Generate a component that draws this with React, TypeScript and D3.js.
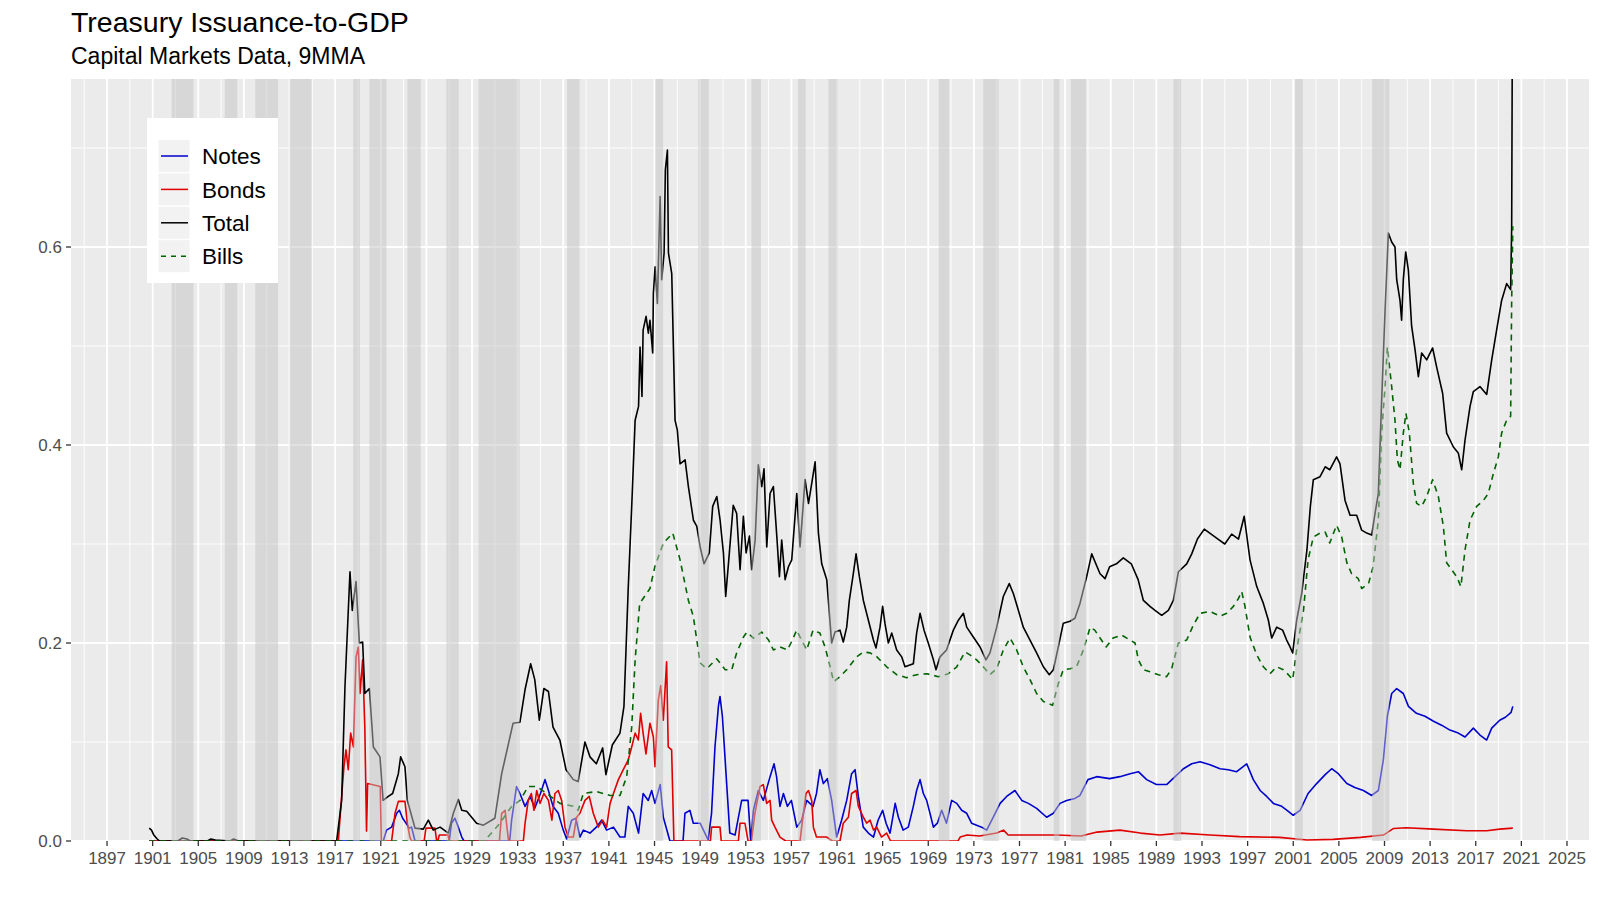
import React from 'react';
import * as d3 from 'd3';

type Pt = [number, number];

// Recession periods (NBER), as decimal years
const recessions: Pt[] = [
  [1902.67, 1904.58], [1907.33, 1908.42], [1910.0, 1912.0], [1913.0, 1914.92],
  [1918.58, 1919.17], [1920.0, 1921.5], [1923.33, 1924.5], [1926.75, 1927.83],
  [1929.58, 1933.17], [1937.33, 1938.42], [1945.08, 1945.75], [1948.83, 1949.75],
  [1953.5, 1954.33], [1957.58, 1958.25], [1960.25, 1961.08], [1969.92, 1970.83],
  [1973.83, 1975.17], [1980.0, 1980.5], [1981.5, 1982.83], [1990.5, 1991.17],
  [2001.17, 2001.83], [2007.92, 2009.42],
];

const xTicks = d3.range(1897, 2026, 4);
const xMinor = d3.range(1895, 2026, 4);
const yTicks = [0, 0.2, 0.4, 0.6];
const yMinor = [0.1, 0.3, 0.5, 0.7];

const totalSeries: Pt[] = [
  [1900.7, 0.013], [1900.9, 0.011], [1901.1, 0.006], [1901.4, 0.002], [1901.6, 0], [1903.2, 0], [1903.6, 0.003],
  [1904.0, 0.002], [1904.3, 0], [1905.8, 0], [1906.1, 0.002], [1906.5, 0.001], [1907.8, 0], [1908.1, 0.002],
  [1908.5, 0], [1917.13, 0], [1917.57, 0.041], [1917.86, 0.156], [1918.3, 0.272], [1918.5, 0.233], [1918.83, 0.262],
  [1919.12, 0.2], [1919.41, 0.201], [1919.6, 0.149], [1920.0, 0.154], [1920.35, 0.095], [1920.93, 0.085],
  [1921.2, 0.041], [1921.66, 0.045], [1922.04, 0.048], [1922.54, 0.068], [1922.74, 0.085], [1923.12, 0.075],
  [1923.33, 0.041], [1924.0, 0.013], [1924.73, 0.012], [1925.17, 0.021], [1925.6, 0.011], [1926.2, 0.014],
  [1926.92, 0.008], [1927.36, 0.028], [1927.8, 0.042], [1928.1, 0.031], [1928.53, 0.03], [1929.4, 0.018],
  [1930.0, 0.016], [1931.0, 0.023], [1931.6, 0.068], [1932.6, 0.119], [1933.2, 0.12], [1933.65, 0.153],
  [1934.14, 0.179], [1934.5, 0.163], [1934.9, 0.122], [1935.3, 0.154], [1935.7, 0.151], [1936.1, 0.115],
  [1936.7, 0.102], [1937.24, 0.072], [1937.88, 0.062], [1938.3, 0.06], [1938.9, 0.1], [1939.34, 0.085],
  [1939.9, 0.078], [1940.45, 0.094], [1940.74, 0.067], [1941.3, 0.097], [1941.97, 0.109], [1942.32, 0.136],
  [1942.7, 0.257], [1943.0, 0.338], [1943.3, 0.425], [1943.6, 0.439], [1943.73, 0.499], [1943.9, 0.449],
  [1944.0, 0.516], [1944.26, 0.53], [1944.46, 0.513], [1944.6, 0.526], [1944.84, 0.493], [1944.9, 0.553],
  [1945.05, 0.58], [1945.25, 0.543], [1945.49, 0.651], [1945.63, 0.567], [1945.84, 0.594], [1945.95, 0.678],
  [1946.13, 0.698], [1946.22, 0.594], [1946.51, 0.573], [1946.8, 0.425], [1947.0, 0.415], [1947.24, 0.381],
  [1947.68, 0.385], [1947.97, 0.358], [1948.41, 0.324], [1948.7, 0.318], [1949.0, 0.297], [1949.34, 0.28],
  [1949.8, 0.291], [1950.1, 0.338], [1950.46, 0.348], [1950.75, 0.324], [1951.04, 0.291], [1951.24, 0.247],
  [1951.56, 0.291], [1951.9, 0.339], [1952.2, 0.331], [1952.5, 0.274], [1952.79, 0.328], [1953.03, 0.291],
  [1953.32, 0.308], [1953.52, 0.274], [1953.82, 0.304], [1954.1, 0.38], [1954.4, 0.358], [1954.6, 0.376],
  [1954.84, 0.297], [1955.13, 0.351], [1955.42, 0.358], [1955.72, 0.308], [1955.95, 0.267], [1956.15, 0.304],
  [1956.45, 0.264], [1956.74, 0.277], [1957.03, 0.284], [1957.47, 0.351], [1957.76, 0.297], [1958.2, 0.365],
  [1958.5, 0.341], [1958.78, 0.361], [1959.08, 0.383], [1959.37, 0.311], [1959.66, 0.28], [1960.1, 0.264],
  [1960.53, 0.2], [1960.82, 0.211], [1961.26, 0.213], [1961.55, 0.201], [1961.85, 0.216], [1962.08, 0.243],
  [1962.43, 0.27], [1962.67, 0.29], [1962.96, 0.267], [1963.31, 0.243], [1963.75, 0.223], [1964.19, 0.203],
  [1964.42, 0.195], [1964.77, 0.216], [1965.0, 0.237], [1965.2, 0.22], [1965.5, 0.2], [1965.8, 0.21],
  [1966.23, 0.193], [1966.67, 0.186], [1966.96, 0.176], [1967.69, 0.179], [1967.98, 0.21], [1968.28, 0.23],
  [1968.63, 0.213], [1969.0, 0.2], [1969.45, 0.183], [1969.68, 0.173], [1970.03, 0.186], [1970.6, 0.193],
  [1971.2, 0.213], [1971.64, 0.223], [1972.08, 0.23], [1972.37, 0.216], [1972.95, 0.206], [1973.54, 0.196],
  [1974.06, 0.183], [1974.41, 0.19], [1975.0, 0.216], [1975.58, 0.247], [1976.1, 0.26], [1976.46, 0.25],
  [1976.9, 0.233], [1977.33, 0.216], [1977.92, 0.203], [1978.5, 0.19], [1979.09, 0.176], [1979.61, 0.168],
  [1979.97, 0.173], [1980.4, 0.196], [1980.84, 0.22], [1981.43, 0.222], [1981.86, 0.225], [1982.3, 0.24],
  [1982.89, 0.267], [1983.33, 0.29], [1984.06, 0.27], [1984.5, 0.265], [1984.9, 0.277], [1985.5, 0.28],
  [1986.1, 0.286], [1986.8, 0.28], [1987.4, 0.264], [1987.86, 0.243], [1988.44, 0.237], [1988.88, 0.233],
  [1989.47, 0.228], [1990.05, 0.233], [1990.49, 0.243], [1990.93, 0.272], [1991.66, 0.28], [1992.1, 0.29],
  [1992.6, 0.305], [1993.2, 0.315], [1993.8, 0.31], [1994.4, 0.305], [1995.0, 0.3], [1995.6, 0.31],
  [1996.2, 0.305], [1996.7, 0.328], [1997.21, 0.284], [1997.8, 0.257], [1998.38, 0.24], [1998.82, 0.223],
  [1999.11, 0.205], [1999.55, 0.216], [2000.07, 0.213], [2000.42, 0.203], [2000.72, 0.196], [2000.95, 0.19],
  [2001.3, 0.223], [2001.74, 0.25], [2002.2, 0.294], [2002.5, 0.338], [2002.76, 0.365], [2003.35, 0.368],
  [2003.8, 0.378], [2004.2, 0.375], [2004.8, 0.388], [2005.1, 0.381], [2005.54, 0.344], [2005.98, 0.329],
  [2006.56, 0.329], [2007.0, 0.314], [2007.44, 0.311], [2007.88, 0.309], [2008.17, 0.331], [2008.46, 0.351],
  [2008.75, 0.445], [2009.05, 0.536], [2009.34, 0.614], [2009.63, 0.605], [2009.92, 0.6], [2010.07, 0.567],
  [2010.36, 0.546], [2010.5, 0.526], [2010.65, 0.567], [2010.86, 0.595], [2011.09, 0.577], [2011.38, 0.52],
  [2011.68, 0.496], [2011.97, 0.469], [2012.26, 0.493], [2012.7, 0.486], [2013.22, 0.498], [2013.57, 0.479],
  [2014.1, 0.452], [2014.45, 0.412], [2015.04, 0.398], [2015.47, 0.392], [2015.77, 0.375], [2016.06, 0.405],
  [2016.5, 0.439], [2016.79, 0.454], [2017.37, 0.459], [2017.96, 0.451], [2018.4, 0.486], [2018.83, 0.516],
  [2019.27, 0.546], [2019.71, 0.563], [2020.06, 0.557], [2020.15, 0.62], [2020.25, 0.95],
];

const billsSeries: Pt[] = [
  [1900.7, 0], [1930.2, 0], [1930.4, 0.004], [1931.45, 0.018], [1932.47, 0.035], [1933.2, 0.041], [1933.93, 0.055],
  [1934.67, 0.055], [1935.54, 0.048], [1936.7, 0.038], [1937.88, 0.035], [1938.3, 0.031], [1938.76, 0.048],
  [1939.9, 0.05], [1941.1, 0.046], [1941.97, 0.046], [1942.56, 0.065], [1943.0, 0.115], [1943.3, 0.183],
  [1943.7, 0.24], [1944.6, 0.255], [1945.05, 0.278], [1945.78, 0.301], [1946.6, 0.311], [1947.24, 0.284],
  [1947.97, 0.243], [1948.4, 0.227], [1949.0, 0.18], [1949.57, 0.174], [1950.45, 0.184], [1951.2, 0.173],
  [1951.77, 0.173], [1952.2, 0.19], [1952.8, 0.206], [1953.1, 0.211], [1953.67, 0.205], [1954.4, 0.211],
  [1955.0, 0.203], [1955.42, 0.193], [1956.0, 0.196], [1956.65, 0.193], [1957.0, 0.201], [1957.47, 0.213],
  [1957.76, 0.206], [1958.34, 0.193], [1958.9, 0.213], [1959.5, 0.21], [1959.95, 0.196], [1960.4, 0.176],
  [1960.7, 0.161], [1961.26, 0.166], [1961.85, 0.173], [1962.72, 0.186], [1963.31, 0.191], [1963.9, 0.19],
  [1964.5, 0.186], [1965.35, 0.176], [1966.23, 0.168], [1967.1, 0.165], [1967.98, 0.168], [1968.86, 0.169],
  [1969.88, 0.166], [1970.76, 0.169], [1971.5, 0.176], [1972.22, 0.191], [1972.66, 0.188], [1973.24, 0.183],
  [1973.83, 0.176], [1974.41, 0.168], [1975.0, 0.174], [1975.58, 0.193], [1976.17, 0.205], [1976.75, 0.193],
  [1977.33, 0.176], [1977.92, 0.163], [1978.5, 0.149], [1979.09, 0.141], [1979.9, 0.137], [1980.4, 0.159],
  [1980.84, 0.173], [1981.43, 0.174], [1982.0, 0.176], [1982.6, 0.193], [1983.2, 0.216], [1983.6, 0.213],
  [1984.06, 0.205], [1984.6, 0.196], [1985.2, 0.205], [1985.96, 0.208], [1986.69, 0.203], [1987.13, 0.2],
  [1987.42, 0.183], [1987.86, 0.173], [1988.44, 0.171], [1989.17, 0.168], [1989.9, 0.166], [1990.34, 0.174],
  [1990.93, 0.2], [1991.66, 0.203], [1992.24, 0.218], [1992.83, 0.23], [1993.7, 0.232], [1994.58, 0.227],
  [1995.17, 0.23], [1995.75, 0.237], [1996.2, 0.245], [1996.48, 0.252], [1996.77, 0.237], [1997.21, 0.206],
  [1997.8, 0.188], [1998.38, 0.176], [1998.96, 0.169], [1999.55, 0.176], [2000.13, 0.173], [2000.57, 0.168],
  [2000.95, 0.163], [2001.3, 0.193], [2001.9, 0.233], [2002.3, 0.284], [2002.76, 0.307], [2003.35, 0.311],
  [2003.8, 0.312], [2004.2, 0.301], [2004.8, 0.319], [2005.25, 0.307], [2005.7, 0.281], [2006.12, 0.27],
  [2006.7, 0.265], [2007.0, 0.255], [2007.6, 0.26], [2008.0, 0.277], [2008.46, 0.324], [2008.75, 0.412],
  [2009.05, 0.459], [2009.25, 0.499], [2009.63, 0.459], [2009.92, 0.425], [2010.13, 0.385], [2010.36, 0.375],
  [2010.65, 0.412], [2010.88, 0.432], [2011.18, 0.412], [2011.53, 0.361], [2011.82, 0.341], [2012.26, 0.338],
  [2012.7, 0.348], [2013.22, 0.365], [2013.72, 0.348], [2014.16, 0.318], [2014.45, 0.281], [2014.89, 0.274],
  [2015.33, 0.267], [2015.7, 0.257], [2016.06, 0.294], [2016.5, 0.324], [2017.08, 0.338], [2017.67, 0.344],
  [2018.1, 0.351], [2018.54, 0.371], [2018.98, 0.388], [2019.27, 0.412], [2019.71, 0.425], [2020.06, 0.429],
  [2020.15, 0.546], [2020.25, 0.621],
];

const notesSeries: Pt[] = [
  [1900.7, 0], [1921.22, 0], [1921.5, 0.011], [1921.95, 0.014], [1922.4, 0.028], [1922.63, 0.031], [1922.92, 0.023],
  [1923.21, 0.018], [1923.5, 0.013], [1923.7, 0.014], [1924.0, 0], [1927.0, 0], [1927.2, 0.018], [1927.5, 0.023],
  [1927.8, 0.014], [1928.1, 0.004], [1928.3, 0], [1932.3, 0], [1932.47, 0.021], [1932.9, 0.055], [1933.2, 0.048],
  [1933.65, 0.035], [1934.1, 0.045], [1934.5, 0.033], [1935.0, 0.048], [1935.4, 0.062], [1935.7, 0.051],
  [1936.1, 0.035], [1936.56, 0.028], [1937.0, 0.011], [1937.3, 0.002], [1937.73, 0.021], [1938.1, 0.023],
  [1938.46, 0.004], [1938.76, 0.011], [1939.34, 0.008], [1939.9, 0.014], [1940.36, 0.021], [1940.8, 0.011],
  [1941.4, 0.014], [1941.97, 0.004], [1942.4, 0.004], [1942.7, 0.035], [1943.14, 0.028], [1943.6, 0.008],
  [1944.0, 0.048], [1944.45, 0.041], [1944.75, 0.051], [1945.04, 0.038], [1945.5, 0.057], [1945.77, 0.024],
  [1946.35, 0], [1947.5, 0], [1947.67, 0.028], [1948.1, 0.031], [1948.4, 0.018], [1949.0, 0.018], [1949.7, 0.001],
  [1950.0, 0.028], [1950.3, 0.095], [1950.6, 0.136], [1950.74, 0.146], [1950.95, 0.126], [1951.27, 0.068],
  [1951.6, 0.008], [1952.06, 0.006], [1952.64, 0.041], [1953.2, 0.041], [1953.43, 0.001], [1953.67, 0.031],
  [1954.1, 0.051], [1954.54, 0.041], [1955.13, 0.065], [1955.48, 0.078], [1955.7, 0.065], [1956.0, 0.035],
  [1956.3, 0.048], [1956.65, 0.035], [1957.0, 0.041], [1957.47, 0.014], [1957.9, 0.021], [1958.34, 0.041],
  [1958.9, 0.035], [1959.2, 0.048], [1959.5, 0.072], [1959.8, 0.058], [1960.15, 0.063], [1960.53, 0.041],
  [1960.97, 0.004], [1961.4, 0.021], [1961.85, 0.041], [1962.28, 0.068], [1962.58, 0.072], [1962.87, 0.045],
  [1963.3, 0.014], [1963.75, 0.008], [1964.2, 0.004], [1964.6, 0.021], [1965.0, 0.031], [1965.3, 0.018],
  [1965.65, 0.008], [1966.1, 0.038], [1966.38, 0.024], [1966.8, 0.011], [1967.25, 0.014], [1967.69, 0.035],
  [1967.98, 0.051], [1968.28, 0.062], [1968.57, 0.048], [1968.86, 0.041], [1969.15, 0.028], [1969.45, 0.014],
  [1969.8, 0.018], [1970.18, 0.031], [1970.6, 0.018], [1971.05, 0.041], [1971.5, 0.038], [1971.93, 0.031],
  [1972.37, 0.028], [1972.8, 0.018], [1973.24, 0.016], [1973.68, 0.014], [1974.12, 0.011], [1974.7, 0.024],
  [1975.3, 0.038], [1975.87, 0.045], [1976.6, 0.051], [1977.2, 0.041], [1977.78, 0.038], [1978.5, 0.033],
  [1979.38, 0.024], [1979.97, 0.028], [1980.55, 0.038], [1981.13, 0.041], [1981.86, 0.043], [1982.3, 0.046],
  [1983.0, 0.062], [1983.77, 0.065], [1984.9, 0.063], [1985.8, 0.065], [1986.7, 0.068], [1987.42, 0.07],
  [1988.15, 0.062], [1989.0, 0.057], [1989.9, 0.057], [1990.64, 0.065], [1991.37, 0.073], [1992.1, 0.078],
  [1992.83, 0.08], [1993.7, 0.077], [1994.58, 0.073], [1995.3, 0.072], [1996.04, 0.07], [1996.92, 0.078],
  [1997.5, 0.062], [1998.1, 0.051], [1998.67, 0.045], [1999.26, 0.038], [1999.99, 0.035], [2000.57, 0.03],
  [2001.0, 0.026], [2001.6, 0.031], [2002.3, 0.048], [2003.05, 0.058], [2003.8, 0.067], [2004.37, 0.073],
  [2004.95, 0.068], [2005.7, 0.058], [2006.4, 0.054], [2007.15, 0.051], [2007.88, 0.046], [2008.46, 0.051],
  [2008.9, 0.082], [2009.25, 0.126], [2009.63, 0.149], [2010.07, 0.154], [2010.65, 0.149], [2011.1, 0.136],
  [2011.8, 0.129], [2012.55, 0.126], [2013.3, 0.121], [2014.0, 0.117], [2014.74, 0.112], [2015.47, 0.109],
  [2016.06, 0.105], [2016.79, 0.114], [2017.37, 0.107], [2017.96, 0.102], [2018.4, 0.114], [2019.1, 0.122],
  [2019.6, 0.125], [2020.1, 0.13], [2020.25, 0.136],
];

const bondsSeries: Pt[] = [
  [1900.7, 0], [1917.28, 0], [1917.5, 0.035], [1917.77, 0.075], [1917.95, 0.092], [1918.15, 0.072], [1918.36, 0.109],
  [1918.6, 0.095], [1918.83, 0.186], [1919.03, 0.196], [1919.18, 0.149], [1919.41, 0.183], [1919.6, 0.115],
  [1919.75, 0.01], [1919.85, 0.058], [1920.95, 0.055], [1921.05, 0], [1921.95, 0], [1922.25, 0.028],
  [1922.54, 0.04], [1923.12, 0.04], [1923.33, 0.018], [1923.55, 0.004], [1923.7, 0], [1924.8, 0],
  [1924.96, 0.013], [1925.75, 0.013], [1925.9, 0], [1926.0, 0], [1926.13, 0.006], [1926.9, 0.006], [1927.0, 0],
  [1931.4, 0], [1931.6, 0.028], [1931.9, 0.031], [1932.2, 0], [1933.5, 0], [1933.65, 0.018], [1933.93, 0.041],
  [1934.2, 0.048], [1934.43, 0.031], [1934.67, 0.051], [1934.96, 0.038], [1935.3, 0.048], [1935.7, 0.041],
  [1936.0, 0.021], [1936.27, 0.048], [1936.56, 0.051], [1936.86, 0.041], [1937.15, 0.014], [1937.44, 0.004],
  [1937.88, 0.004], [1938.17, 0.024], [1938.46, 0.028], [1938.9, 0.041], [1939.28, 0.045], [1939.63, 0.028],
  [1940.07, 0.014], [1940.45, 0.021], [1940.8, 0.014], [1941.1, 0.038], [1941.4, 0.048], [1941.83, 0.062],
  [1942.26, 0.072], [1942.7, 0.082], [1943.0, 0.095], [1943.3, 0.109], [1943.58, 0.102], [1943.78, 0.129],
  [1944.0, 0.109], [1944.25, 0.088], [1944.6, 0.119], [1944.9, 0.105], [1945.04, 0.075], [1945.33, 0.142],
  [1945.54, 0.157], [1945.77, 0.122], [1946.06, 0.181], [1946.2, 0.095], [1946.5, 0.092], [1946.7, 0],
  [1949.9, 0], [1950.0, 0.014], [1950.74, 0.014], [1950.85, 0], [1952.35, 0], [1952.5, 0.018], [1952.93, 0.018],
  [1953.2, 0], [1953.5, 0], [1953.8, 0.028], [1954.25, 0.055], [1954.54, 0.057], [1954.83, 0.038],
  [1955.13, 0.041], [1955.27, 0.021], [1955.56, 0.014], [1956.0, 0.004], [1956.5, 0], [1957.76, 0],
  [1957.9, 0.014], [1958.28, 0.048], [1958.5, 0.051], [1958.78, 0.041], [1958.93, 0.014], [1959.2, 0.004],
  [1960.1, 0.004], [1960.6, 0], [1961.26, 0], [1961.55, 0.018], [1962.0, 0.024], [1962.28, 0.048],
  [1962.67, 0.051], [1962.87, 0.035], [1963.31, 0.024], [1963.6, 0.018], [1963.9, 0.021], [1964.2, 0.011],
  [1964.48, 0.014], [1964.9, 0.004], [1965.35, 0.008], [1965.7, 0], [1971.6, 0], [1971.8, 0.004],
  [1972.4, 0.006], [1973.5, 0.005], [1975.0, 0.008], [1975.6, 0.011], [1976.0, 0.006], [1978.0, 0.006],
  [1980.3, 0.006], [1982.4, 0.005], [1983.8, 0.009], [1985.8, 0.011], [1987.6, 0.008], [1989.3, 0.006],
  [1991.1, 0.008], [1993.7, 0.006], [1996.3, 0.0044], [1999.8, 0.0037], [2002.2, 0.001], [2004.5, 0.0016],
  [2006.9, 0.0037], [2008.9, 0.006], [2009.8, 0.0127], [2010.9, 0.0134], [2013.3, 0.012], [2016.2, 0.0104],
  [2017.96, 0.0104], [2019.1, 0.012], [2020.25, 0.013],
];

const seriesDefs = [
  { name: 'Notes', data: notesSeries, color: '#0000CD', dash: '' },
  { name: 'Bonds', data: bondsSeries, color: '#E00000', dash: '' },
  { name: 'Total', data: totalSeries, color: '#000000', dash: '' },
  { name: 'Bills', data: billsSeries, color: '#006400', dash: '6,5' },
];

const W = 1600;
const H = 905;
const panel = { left: 71, right: 1589, top: 79, bottom: 841 };
const FONT = '"Liberation Sans", Arial, Helvetica, sans-serif';

export default function App() {
  const x = d3.scaleLinear().domain([1893.84, 2026.93]).range([panel.left, panel.right]);
  const y = d3.scaleLinear().domain([0, 0.7697]).range([panel.bottom, panel.top]);
  const line = d3
    .line<Pt>()
    .x(d => x(d[0]))
    .y(d => y(d[1]));

  const pw = panel.right - panel.left;
  const ph = panel.bottom - panel.top;

  return (
    <svg
      width={W}
      height={H}
      style={{ position: 'absolute', left: 0, top: 0, background: '#fff' }}
      fontFamily={FONT}
    >
      <defs>
        <clipPath id="panel-clip">
          <rect x={panel.left} y={panel.top} width={pw} height={ph} />
        </clipPath>
      </defs>

      {/* titles */}
      <text x={panel.left} y={32} fontSize={28.5} fill="#000">Treasury Issuance-to-GDP</text>
      <text x={panel.left} y={64} fontSize={23} fill="#000">Capital Markets Data, 9MMA</text>

      {/* panel background and grid */}
      <rect x={panel.left} y={panel.top} width={pw} height={ph} fill="#EBEBEB" />
      {yMinor.map(v => (
        <line key={'ym' + v} x1={panel.left} x2={panel.right} y1={y(v)} y2={y(v)} stroke="#fff" strokeWidth={0.9} />
      ))}
      {xMinor.map(v => (
        <line key={'xm' + v} x1={x(v)} x2={x(v)} y1={panel.top} y2={panel.bottom} stroke="#fff" strokeWidth={0.9} />
      ))}
      {yTicks.map(v => (
        <line key={'yg' + v} x1={panel.left} x2={panel.right} y1={y(v)} y2={y(v)} stroke="#fff" strokeWidth={1.8} />
      ))}
      {xTicks.map(v => (
        <line key={'xg' + v} x1={x(v)} x2={x(v)} y1={panel.top} y2={panel.bottom} stroke="#fff" strokeWidth={1.8} />
      ))}

      {/* series */}
      <g clipPath="url(#panel-clip)">
        {seriesDefs.map(s => (
          <path
            key={s.name}
            d={line(s.data) ?? ''}
            fill="none"
            stroke={s.color}
            strokeWidth={1.6}
            strokeDasharray={s.dash || undefined}
            strokeLinejoin="round"
          />
        ))}
        {/* recession shading drawn over the lines */}
        {recessions.map(([a, b]) => (
          <rect
            key={'r' + a}
            x={x(a)}
            y={panel.top}
            width={x(b) - x(a)}
            height={ph}
            fill="rgb(196,196,196)"
            fillOpacity={0.5}
          />
        ))}
      </g>

      {/* axes */}
      {yTicks.map(v => (
        <g key={'yt' + v}>
          <line x1={panel.left - 5} x2={panel.left} y1={y(v)} y2={y(v)} stroke="#333" strokeWidth={1.3} />
          <text x={panel.left - 9} y={y(v)} dy="0.35em" textAnchor="end" fontSize={17} fill="#4D4D4D">
            {v.toFixed(1)}
          </text>
        </g>
      ))}
      {xTicks.map(v => (
        <g key={'xt' + v}>
          <line x1={x(v)} x2={x(v)} y1={panel.bottom} y2={panel.bottom + 5} stroke="#333" strokeWidth={1.3} />
          <text x={x(v)} y={panel.bottom + 23} textAnchor="middle" fontSize={17} fill="#4D4D4D">
            {v}
          </text>
        </g>
      ))}

      {/* legend */}
      <rect x={147} y={118} width={131} height={165} fill="#fff" />
      {seriesDefs.map((s, i) => {
        const cy = 156 + i * 33.4;
        return (
          <g key={'lg' + s.name}>
            <rect x={158} y={cy - 16.5} width={32} height={33} fill="#F2F2F2" stroke="#fff" strokeWidth={1} />
            <line
              x1={161}
              x2={188}
              y1={cy}
              y2={cy}
              stroke={s.color}
              strokeWidth={1.5}
              strokeDasharray={s.dash ? '5,5' : undefined}
            />
            <text x={202} y={cy} dy="0.36em" fontSize={22.5} fill="#000">
              {s.name}
            </text>
          </g>
        );
      })}
    </svg>
  );
}
